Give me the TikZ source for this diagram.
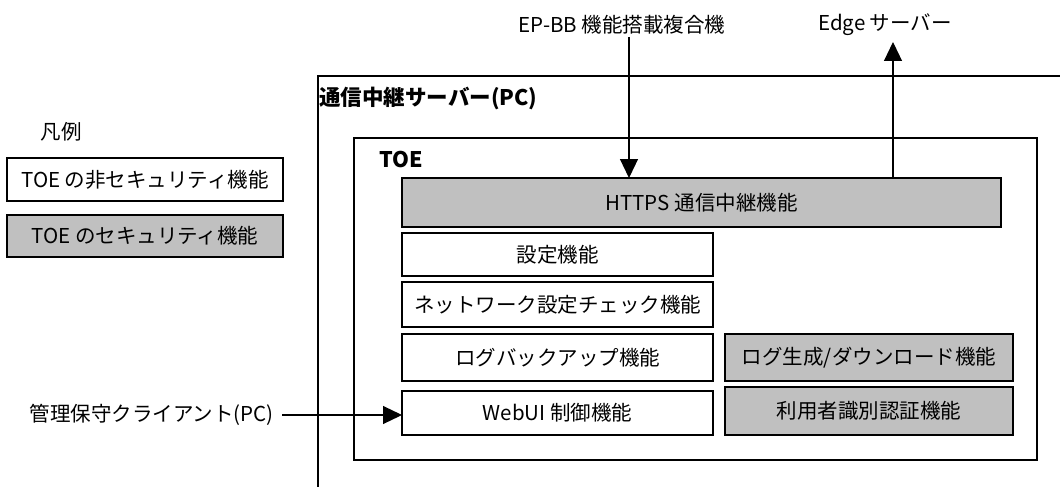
\documentclass[tikz,border=0pt]{standalone}
\usepackage{fontspec}
\setmainfont{Noto Sans CJK JP}
\usetikzlibrary{arrows.meta}
\definecolor{secgray}{HTML}{C0C0C0}
\tikzset{
  box/.style={draw=black, line width=1.4pt, fill=white},
  secbox/.style={box, fill=secgray},
  lbl/.style={font=\fontsize{20.5}{22}\selectfont, inner sep=0pt},
  blbl/.style={font=\fontsize{21.5}{23}\selectfont\bfseries, inner sep=0pt},
  conn/.style={line width=1.2pt},
  arr/.style={conn, -{Triangle[length=19pt,width=18pt]}}
}
\begin{document}
\begin{tikzpicture}[x=1pt,y=-1pt]
\useasboundingbox (0,0) rectangle (1060,487);
% outer frame (server), open to right and bottom
\draw[line width=1.2pt] (1060,76) -- (318,76) -- (318,487);
\node[blbl, anchor=west] (srv) at (319,99) {通信中継サーバー(PC)};
% TOE box
\draw[box] (354,138) rectangle (1037,460);
\node[blbl, anchor=west] (toe) at (379,160) {TOE};
% function boxes
\draw[secbox] (402,178) rectangle (1001,227);
\node[lbl] (https) at (701.5,202.5) {HTTPS 通信中継機能};
\coordinate (httpsTop) at (701.5,178);
\draw[box] (402,233) rectangle (713,276);
\node[lbl] (set) at (557.5,254.5) {設定機能};
\draw[box] (402,282) rectangle (713,327);
\node[lbl] (net) at (557.5,304.5) {ネットワーク設定チェック機能};
\draw[box] (402,334) rectangle (713,381);
\node[lbl] (bak) at (557.5,357.5) {ログバックアップ機能};
\draw[box] (402,391) rectangle (713,435);
\node[lbl] (web) at (557.5,413) {WebUI 制御機能};
\coordinate (webW) at (402,415);
\draw[secbox] (725,334) rectangle (1013,381);
\node[lbl] (log) at (869,357.5) {ログ生成/ダウンロード機能};
\draw[secbox] (725,387) rectangle (1013,435);
\node[lbl] (auth) at (869,411) {利用者識別認証機能};
% legend
\node[lbl] (hanrei) at (61,132) {凡例};
\draw[box] (7,158) rectangle (283,201);
\node[lbl] (leg1) at (145,179.5) {TOE の非セキュリティ機能};
\draw[secbox] (7,215) rectangle (283,257);
\node[lbl] (leg2) at (145,236) {TOE のセキュリティ機能};
% external entities
\node[lbl] (ep) at (622,25) {EP-BB 機能搭載複合機};
\node[lbl] (edge) at (885,25) {Edge サーバー};
\node[lbl, anchor=east] (cli) at (274,415) {管理保守クライアント(PC)};
% connectors
\coordinate (epx) at (629,37);
\coordinate (edx) at (893,42);
\draw[arr] (epx) -- (epx |- httpsTop);
\draw[arr] (edx |- httpsTop) -- (edx);
\draw[arr] ([xshift=8pt]cli.east) -- (webW);
\end{tikzpicture}
\end{document}
